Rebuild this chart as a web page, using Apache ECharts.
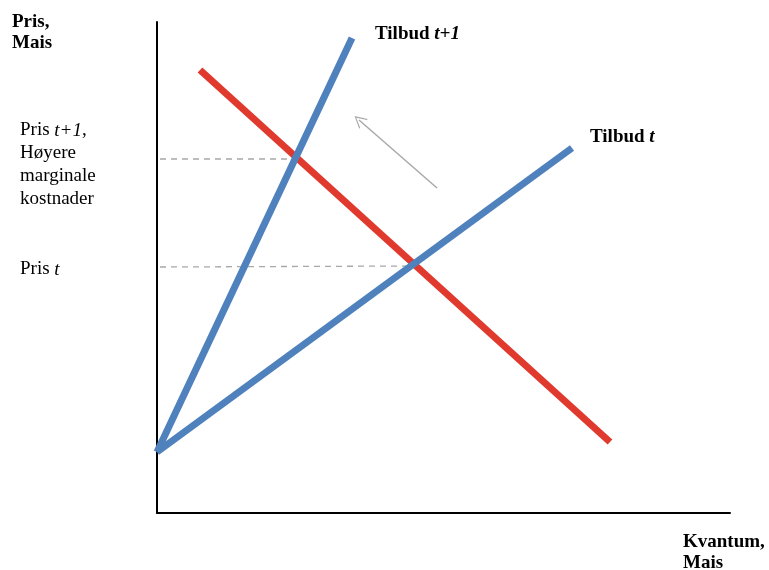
<!DOCTYPE html>
<html>
<head>
<meta charset="utf-8">
<script src="https://cdn.jsdelivr.net/npm/echarts@6/dist/echarts.min.js"></script>
<style>html,body{margin:0;padding:0;background:#fff}#c{width:769px;height:570px}</style>
</head>
<body>
<div id="c"></div>
<script>
// Data (abstract units: x = quantity, y = price)
const demand   = [[43, 443], [453, 71]];
const supplyT  = [[0, 61], [415, 365]];
const supplyT1 = [[0, 61], [195, 475]];
const priceT1Guide = [[3, 354], [136, 354]];
const priceTGuide  = [[3, 246], [257, 247]];
const shiftArrow   = [[280, 325], [202, 393]];
const xRange = [0, 573];
const yRange = [0, 491];

const BLUE = '#4F81BD';
const RED = '#E0392D';
const SERIF = '"Liberation Serif","Times New Roman",serif';

const chart = echarts.init(document.getElementById('c'));

function lineSeries(data, color, width, type) {
  return {
    type: 'line', data: data, symbol: 'none', showSymbol: false, silent: true,
    animation: false,
    lineStyle: { color: color, width: width, type: type || 'solid', cap: 'butt' },
    z: 3
  };
}

function txt(x, y, rich, text, lh) {
  return {
    type: 'text', left: x, top: y, silent: true,
    style: { text: text, rich: rich, fill: '#000', font: '19px ' + SERIF, lineHeight: lh }
  };
}

const R = {
  b: { fontFamily: SERIF, fontSize: 19, fontWeight: 'bold', lineHeight: 21, fill: '#000' },
  bi: { fontFamily: SERIF, fontSize: 19, fontWeight: 'bold', fontStyle: 'italic', lineHeight: 21, fill: '#000' },
  r: { fontFamily: SERIF, fontSize: 19, lineHeight: 23, fill: '#000' },
  i: { fontFamily: SERIF, fontSize: 19, fontStyle: 'italic', lineHeight: 23, fill: '#000' }
};

chart.setOption({
  backgroundColor: '#fff',
  animation: false,
  grid: { left: 157, top: 22, right: 39, bottom: 57 },
  xAxis: {
    type: 'value', min: xRange[0], max: xRange[1],
    axisLine: { show: true, onZero: false, lineStyle: { color: '#000', width: 2 } },
    axisTick: { show: false }, axisLabel: { show: false }, splitLine: { show: false }
  },
  yAxis: {
    type: 'value', min: yRange[0], max: yRange[1],
    axisLine: { show: true, onZero: false, lineStyle: { color: '#000', width: 2 } },
    axisTick: { show: false }, axisLabel: { show: false }, splitLine: { show: false }
  },
  series: [
    lineSeries(priceT1Guide, '#a8a8a8', 1.3, [6, 5]),
    lineSeries(priceTGuide, '#a8a8a8', 1.3, [6, 5]),
    lineSeries(demand, RED, 7),
    lineSeries(supplyT, BLUE, 7),
    lineSeries(supplyT1, BLUE, 7),
    {
      type: 'line', data: [], silent: true, animation: false,
      markLine: {
        silent: true, animation: false,
        symbol: ['none', 'path://M10,0 L0,20 L2.2,20 L10,4 L17.8,20 L20,20 Z'],
        symbolSize: [13, 12],
        label: { show: false },
        lineStyle: { color: '#aaaaaa', width: 1.5, type: 'solid' },
        data: [[{ coord: shiftArrow[0] }, { coord: shiftArrow[1] }]]
      }
    }
  ],
  graphic: [
    txt(12, 12, R, '{b|Pris,}\n{b|Mais}', 21),
    txt(20, 119, R, '{r|Pris }{i|t+1}{r|,}\n{r|Høyere}\n{r|marginale}\n{r|kostnader}', 23),
    txt(20, 258, R, '{r|Pris }{i|t}', 23),
    txt(375, 24, R, '{b|Tilbud }{bi|t+1}', 21),
    txt(590, 127, R, '{b|Tilbud }{bi|t}', 21),
    txt(683, 532, R, '{b|Kvantum,}\n{b|Mais}', 21)
  ]
});
</script>
</body>
</html>
